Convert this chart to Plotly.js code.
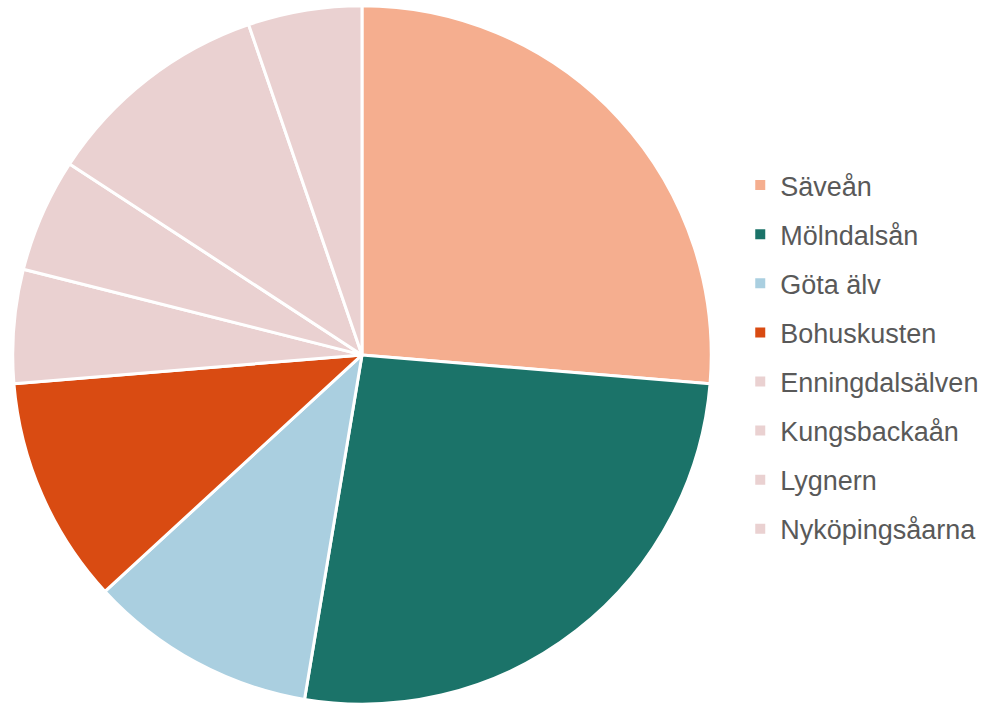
<!DOCTYPE html>
<html>
<head>
<meta charset="utf-8">
<script src="https://cdn.plot.ly/plotly-3.0.1.min.js"></script>
<style>html,body{margin:0;padding:0;background:#fff;}#chart{width:987px;height:707px;}</style>
</head>
<body>
<div id="chart"></div>
<script>
const categories = ["Säveån","Mölndalsån","Göta älv","Bohuskusten","Enningdalsälven","Kungsbackaån","Lygnern","Nyköpingsåarna"];
const values = [5,5,2,2,1,1,2,1];
const colors = ["#F5AE8F","#1B7369","#AACFE0","#D94B12","#EAD1D1","#EAD1D1","#EAD1D1","#EAD1D1"];

const pie = {
  type: "pie",
  labels: categories,
  values: values,
  sort: false,
  direction: "clockwise",
  rotation: 0,
  marker: {colors: colors, line: {color: "#ffffff", width: 3}},
  textinfo: "none",
  hoverinfo: "label+value",
  showlegend: false,
  domain: {x: [0, 0.7335], y: [0.004, 0.992]}
};

const legendTraces = categories.map((c, i) => ({
  type: "scatter",
  mode: "markers",
  x: [null], y: [null],
  name: c,
  legendgroup: "g" + i,
  marker: {symbol: "square", size: 10, color: colors[i]},
  showlegend: true,
  hoverinfo: "skip"
}));

const layout = {
  width: 987, height: 707,
  margin: {l: 0, r: 0, t: 0, b: 0},
  paper_bgcolor: "#ffffff",
  plot_bgcolor: "rgba(0,0,0,0)",
  xaxis: {visible: false},
  yaxis: {visible: false},
  showlegend: true,
  legend: {
    x: 0.750, y: 0.495, xanchor: "left", yanchor: "middle",
    font: {family: "Liberation Sans, Arial, sans-serif", size: 27, color: "#595959"},
    tracegroupgap: 11,
    itemwidth: 30,
    bgcolor: "rgba(0,0,0,0)"
  }
};

Plotly.newPlot("chart", [pie].concat(legendTraces), layout, {displayModeBar: false, staticPlot: true});
</script>
</body>
</html>
